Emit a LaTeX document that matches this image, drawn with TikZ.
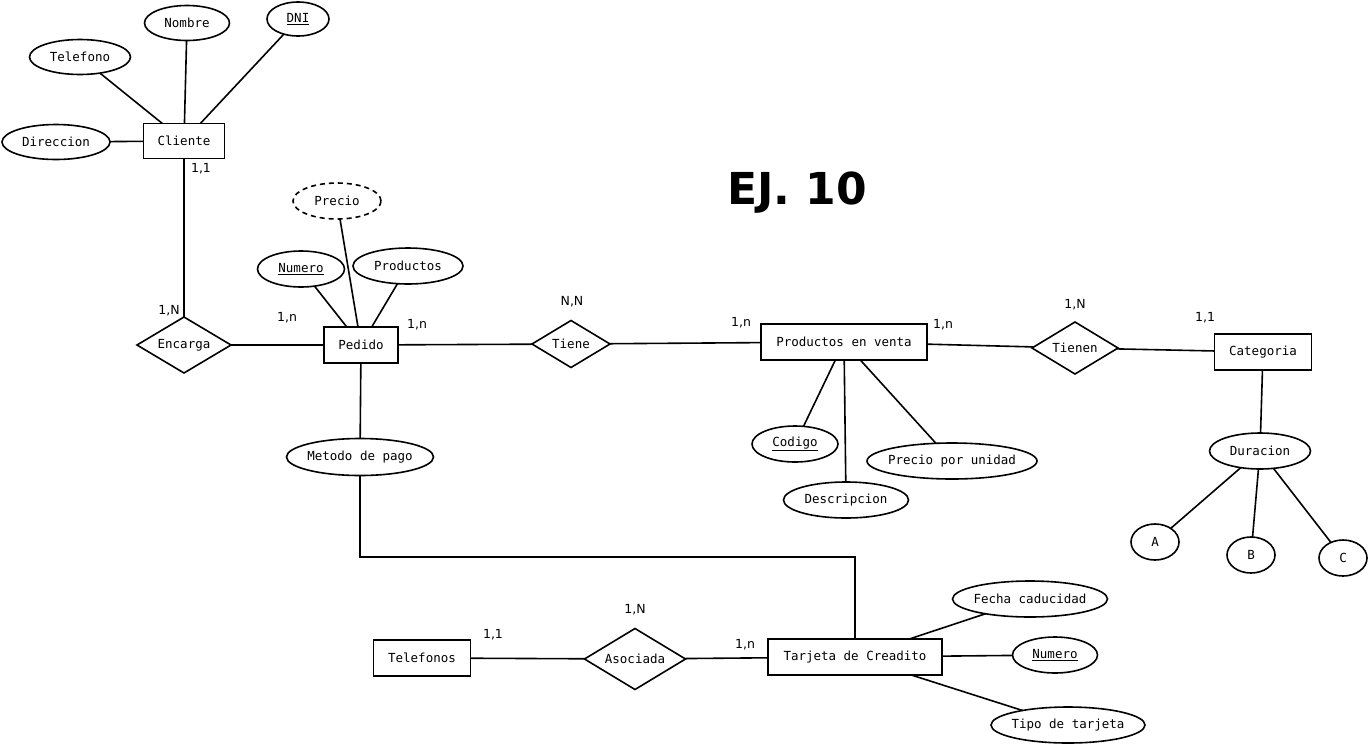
\documentclass[tikz,border=0pt]{standalone}
\usepackage{fontspec}
\setmainfont{DejaVu Sans}
\newfontfamily\monofnt{DejaVu Sans Mono}
\usetikzlibrary{shapes.geometric}
\newcommand{\zb}[1]{\makebox[0pt]{#1}}
\begin{document}
\begin{tikzpicture}[x=1pt,y=-1pt,
  every node/.style={inner sep=0pt, outer sep=0pt},
  ent/.style={draw, line width=1.6pt, rectangle, minimum height=36pt, font=\monofnt\fontsize{12.5}{14}\selectfont},
  attr/.style={draw, line width=1.6pt, ellipse, minimum height=36pt, font=\monofnt\fontsize{12.5}{14}\selectfont},
  rel/.style={draw, line width=1.6pt, diamond, aspect=1.6, font=\monofnt\fontsize{12.5}{14}\selectfont},
  card/.style={font=\fontsize{12.5}{14}\selectfont},
  conn/.style={line width=1.6pt}]
\useasboundingbox[fill=white] (0,0) rectangle (1370,745);

% Cliente
\node[ent, minimum width=81pt, minimum height=35pt] (cli) at (184,141) {Cliente};
\node[attr, minimum width=108pt, minimum height=35pt] (dir) at (56,142) {\zb{Direccion}};
\node[attr, minimum width=101pt, minimum height=35pt] (tel) at (80,57) {\zb{Telefono}};
\node[attr, minimum width=85pt, minimum height=35pt] (nom) at (187,23) {\zb{Nombre}};
\node[attr, minimum width=62pt, minimum height=34pt] (dni) at (298,19) {\zb{\underline{DNI}}};
\draw[conn] (dir) -- (cli);
\draw[conn] (tel) -- (cli);
\draw[conn] (nom) -- (cli);
\draw[conn] (dni) -- (cli);
\node[card] (c11a) at (201,169) {1,1};

% Encarga
\node[rel, minimum width=94pt, minimum height=56pt] (enc) at (184,345) {Encarga};
\draw[conn] (cli) -- (enc);
\node[card] (c1Na) at (169,311) {1,N};

% Pedido
\node[ent, minimum width=74pt] (ped) at (361,345) {Pedido};
\draw[conn] (enc) -- (ped);
\node[card] (c1na) at (287,318) {1,n};
\node[attr, minimum width=87pt] (num) at (301,269) {\zb{\underline{Numero}}};
\node[attr, dash pattern=on 5pt off 4pt, minimum width=88pt] (pre) at (337,201) {\zb{Precio}};
\node[attr, minimum width=110pt] (prod) at (408,266) {\zb{Productos}};
\draw[conn] (num) -- (ped);
\draw[conn] (pre) -- (ped);
\draw[conn] (prod) -- (ped);
\node[card] (c1nb) at (417,325) {1,n};

% Metodo de pago
\node[attr, minimum width=147pt, minimum height=37pt] (met) at (360,457) {\zb{Metodo de pago}};
\draw[conn] (ped) -- (met);

% Tiene
\node[rel, minimum width=78pt, minimum height=47pt] (tie) at (571,344) {Tiene};
\draw[conn] (ped) -- (tie);
\node[card] (cNN) at (572,302) {N,N};

% Productos en venta
\node[ent, minimum width=166pt] (pev) at (844,342) {Productos en venta};
\draw[conn] (tie) -- (pev);
\node[card] (c1nc) at (741,323) {1,n};
\node[card] (c1nd) at (943,325) {1,n};
\node[attr, minimum width=86pt] (cod) at (795,444) {\zb{\underline{Codigo}}};
\node[attr, minimum width=125pt] (des) at (846,500) {\zb{Descripcion}};
\node[attr, minimum width=170pt] (ppu) at (952,461) {\zb{Precio por unidad}};
\draw[conn] (cod) -- (pev);
\draw[conn] (des) -- (pev);
\draw[conn] (ppu) -- (pev);

% Tienen
\node[rel, minimum width=86pt, minimum height=52pt] (tnn) at (1075,348) {Tienen};
\draw[conn] (pev) -- (tnn);
\node[card] (c1Nb) at (1075,305) {1,N};

% Categoria
\node[ent, minimum width=97pt] (cat) at (1263,352) {Categoria};
\draw[conn] (tnn) -- (cat);
\node[card] (c11b) at (1205,318) {1,1};
\node[attr, minimum width=101pt] (dur) at (1260,451) {\zb{Duracion}};
\draw[conn] (cat) -- (dur);
\node[attr, minimum width=48pt] (A) at (1155,542) {\zb{A}};
\node[attr, minimum width=48pt] (B) at (1251,555) {\zb{B}};
\node[attr, minimum width=48pt] (C) at (1343,558) {\zb{C}};
\draw[conn] (dur) -- (A);
\draw[conn] (dur) -- (B);
\draw[conn] (dur) -- (C);

% Tarjeta de Creadito
\node[ent, minimum width=174pt] (tar) at (855,657) {Tarjeta de Creadito};
\coordinate (elbow) at (360,557);
\draw[conn] (met) -- (elbow) -| (tar);
\node[attr, minimum width=155pt] (fec) at (1030,599) {\zb{Fecha caducidad}};
\node[attr, minimum width=85pt] (num2) at (1055,655) {\zb{\underline{Numero}}};
\node[attr, minimum width=154pt] (tip) at (1068,725) {\zb{Tipo de tarjeta}};
\draw[conn] (fec) -- (tar);
\draw[conn] (num2) -- (tar);
\draw[conn] (tip) -- (tar);

% Asociada
\node[rel, minimum width=101pt, minimum height=61pt] (aso) at (635,659) {Asociada};
\node[ent, minimum width=97pt] (tfs) at (422,658) {Telefonos};
\draw[conn] (tfs) -- (aso);
\draw[conn] (aso) -- (tar);
\node[card] (c11c) at (493,635) {1,1};
\node[card] (c1Nc) at (635,610) {1,N};
\node[card] (c1ne) at (745,645) {1,n};

% Title
\node[font=\bfseries\fontsize{44}{50}\selectfont] (title) at (797,193) {EJ. 10};
\end{tikzpicture}
\end{document}
